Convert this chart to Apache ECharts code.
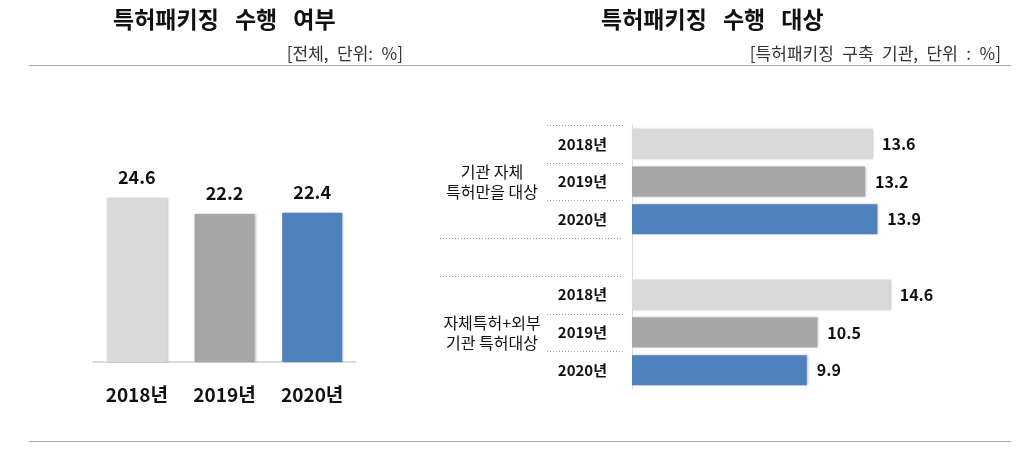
<!DOCTYPE html>
<html><head><meta charset="utf-8">
<script src="https://cdn.jsdelivr.net/npm/echarts@6/dist/echarts.min.js"></script>
<style>html,body{margin:0;padding:0;background:#fff}#c{width:1029px;height:454px}</style>
</head><body><div id="c"></div>
<script>
// ---- data ----
const leftCats = ['2018년', '2019년', '2020년'];
const leftVals = [24.6, 22.2, 22.4];
const rightYears = ['2018년', '2019년', '2020년'];
const groupNames = ['기관 자체\n특허만을 대상', '자체특허+외부\n기관 특허대상'];
const groupOwn = [13.6, 13.2, 13.9];
const groupOwnExt = [14.6, 10.5, 9.9];
const title1 = '특허패키징\u2002\u2009수행\u2002\u2009여부';
const sub1 = '[전체,\u2002단위:\u2002%]';
const title2 = '특허패키징\u2002\u2009수행\u2002\u2009대상';
const sub2 = '[특허패키징\u2002구축\u2002기관,\u2002단위\u2002:\u2002%]';

const yearColors = ['#d9d9d9', '#a6a6a6', '#4f81bd'];
const FONT = '"Noto Sans CJK KR", "Noto Sans", sans-serif';

// build right-chart rows: group1 years, spacer, group2 years
const rightCats = [...rightYears, '', ...rightYears];
const rightVals = [...groupOwn, null, ...groupOwnExt];
const rightColorIdx = [0, 1, 2, -1, 0, 1, 2];
const groupLabelRows = rightCats.map((c, i) => i === 1 ? groupNames[0] : (i === 5 ? groupNames[1] : ''));

const chart = echarts.init(document.getElementById('c'), null, {renderer: 'canvas'});

const shadow = {shadowColor: 'rgba(0,0,0,0.25)', shadowBlur: 2, shadowOffsetX: 1, shadowOffsetY: 0};

// separator definitions: [row index, 'top'|'bottom', long?]
const seps = [[0,'top',false],[1,'top',false],[2,'top',false],[2,'bottom',true],[4,'top',true],[5,'top',false],[6,'top',false]];

chart.setOption({
  backgroundColor: '#fff',
  animation: false,
  textStyle: {fontFamily: FONT},
  title: [
    {text: title1, left: 108, top: 3, textStyle: {fontSize: 23, fontWeight: 'bold', color: '#111', fontFamily: FONT}},
    {text: sub1, right: 1029 - 408, top: 40, textStyle: {fontSize: 17, fontWeight: 'normal', color: '#333', fontFamily: FONT}},
    {text: title2, left: 596, top: 3, textStyle: {fontSize: 23, fontWeight: 'bold', color: '#111', fontFamily: FONT}},
    {text: sub2, right: 1029 - 1006, top: 40, textStyle: {fontSize: 17, fontWeight: 'normal', color: '#333', fontFamily: FONT}}
  ],
  graphic: [
    {type: 'rect', left: 29, top: 65, shape: {width: 982, height: 1}, style: {fill: '#a6a6a6'}},
    {type: 'rect', left: 29, top: 441, shape: {width: 982, height: 1}, style: {fill: '#a6a6a6'}}
  ],
  grid: [
    {left: 93, width: 263, top: 162, bottom: 92},
    {left: 632, width: 353, top: 125, height: 264}
  ],
  xAxis: [
    {gridIndex: 0, type: 'category', data: leftCats,
     axisLine: {lineStyle: {color: '#d0d0d0', width: 1.5}}, axisTick: {show: false},
     axisLabel: {margin: 23, fontSize: 19, fontWeight: 'bold', color: '#111', fontFamily: FONT}},
    {gridIndex: 1, type: 'value', min: 0, max: 20, show: false, splitLine: {show: false}}
  ],
  yAxis: [
    {gridIndex: 0, type: 'value', min: 0, max: 30, show: false, splitLine: {show: false}},
    {gridIndex: 1, type: 'category', data: rightCats, inverse: true,
     axisLine: {show: true, lineStyle: {color: '#d9d9d9', width: 1}}, axisTick: {show: false},
     axisLabel: {margin: 25, fontSize: 15, fontWeight: 'bold', color: '#111', fontFamily: FONT}},
    {gridIndex: 1, type: 'category', data: groupLabelRows, inverse: true, position: 'left',
     axisLine: {show: false}, axisTick: {show: false},
     axisLabel: {margin: 140, align: 'center', fontSize: 16, lineHeight: 20, color: '#111', fontFamily: FONT}}
  ],
  series: [
    {type: 'bar', xAxisIndex: 0, yAxisIndex: 0, barWidth: 60,
     data: leftVals.map((v, i) => ({value: v, itemStyle: {color: yearColors[i], ...shadow}})),
     label: {show: true, position: 'top', distance: 12, fontSize: 18, fontWeight: 'bold', color: '#111', fontFamily: FONT}},
    {type: 'bar', xAxisIndex: 1, yAxisIndex: 1, barWidth: 30,
     data: rightVals.map((v, i) => ({value: v, itemStyle: {color: rightColorIdx[i] >= 0 ? yearColors[rightColorIdx[i]] : 'transparent', ...shadow}})),
     label: {show: true, position: 'right', distance: 10, fontSize: 16, fontWeight: 'bold', color: '#111', fontFamily: FONT,
       formatter: p => p.value == null ? '' : p.value}},
    {type: 'custom', xAxisIndex: 1, yAxisIndex: 1, clip: false, silent: true,
     data: seps.map(s => [0, s[0]]),
     renderItem: function (params, api) {
       const s = seps[params.dataIndex];
       const c = api.coord([0, s[0]]);
       const band = api.size([0, 1])[1];
       const y = Math.round(s[1] === 'top' ? c[1] - band / 2 : c[1] + band / 2) + 0.5;
       const x2 = c[0] - 9;
       const x1 = s[2] ? c[0] - 192 : c[0] - 85;
       return {type: 'line', shape: {x1: x1, y1: y, x2: x2, y2: y},
               style: {stroke: '#a0a0a0', lineWidth: 1, lineDash: [1, 2]}};
     }}
  ]
});
</script></body></html>
